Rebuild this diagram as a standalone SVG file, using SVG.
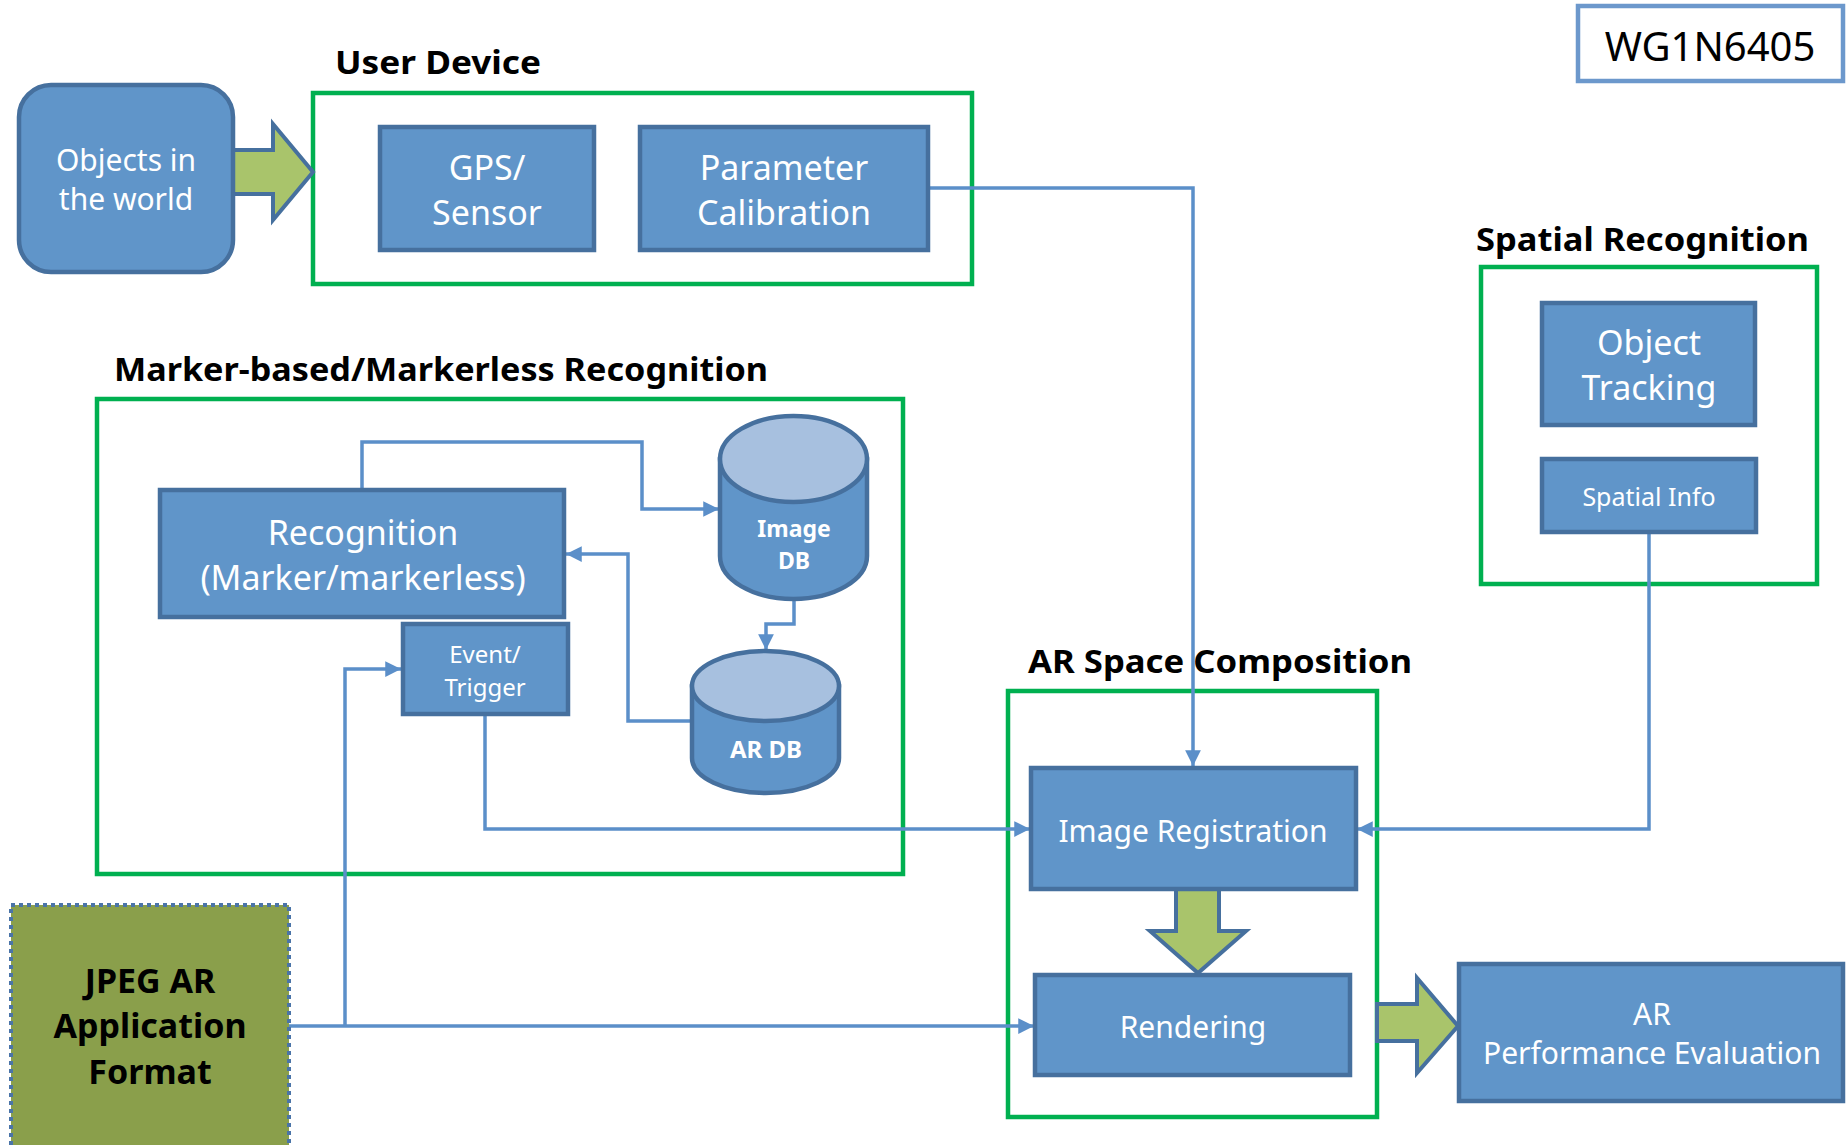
<svg xmlns="http://www.w3.org/2000/svg" width="1847" height="1145" viewBox="0 0 1847 1145">
<style>
.box{fill:#6095C9;stroke:#46709E;stroke-width:4.5}
.grp{fill:none;stroke:#00B050;stroke-width:4.5}
.wt{fill:#fff;font-family:"Noto Sans","Open Sans","DejaVu Sans",sans-serif;text-anchor:middle}
.bt{fill:#000;font-family:"Noto Sans","Open Sans","DejaVu Sans",sans-serif;font-weight:bold}
.con{fill:none;stroke:#5B8FC9;stroke-width:3.5}
.garrow{fill:#A9C46B;stroke:#46709E;stroke-width:4;stroke-linejoin:miter}
.cyl{fill:#6095C9;stroke:#46709E;stroke-width:4.5}
.cyltop{fill:#A7C0DF;stroke:#46709E;stroke-width:4.5}
</style>
<defs>
<marker id="ah" viewBox="0 0 10 10" refX="10" refY="5" markerWidth="4.5" markerHeight="4.5" orient="auto" markerUnits="strokeWidth">
<path d="M0,0 L10,5 L0,10 z" fill="#5B8FC9"/>
</marker>
</defs>
<rect width="1847" height="1145" fill="#fff"/>

<!-- group containers and titles -->
<g id="user-device-group">
<rect class="grp" x="313" y="93" width="659" height="191"/>
<text class="bt" x="335" y="74" font-size="33" textLength="206" lengthAdjust="spacingAndGlyphs">User Device</text>
</g>
<g id="marker-group">
<rect class="grp" x="97" y="399" width="806" height="475"/>
<text class="bt" x="114" y="381" font-size="33" textLength="654" lengthAdjust="spacingAndGlyphs">Marker-based/Markerless Recognition</text>
</g>
<g id="spatial-group">
<rect class="grp" x="1481" y="267" width="336" height="317"/>
<text class="bt" x="1476" y="251" font-size="33" textLength="333" lengthAdjust="spacingAndGlyphs">Spatial Recognition</text>
</g>
<g id="arspace-group">
<rect class="grp" x="1008" y="691" width="369" height="426"/>
<text class="bt" x="1028" y="673" font-size="33" textLength="384" lengthAdjust="spacingAndGlyphs">AR Space Composition</text>
</g>

<!-- connectors -->
<g id="connectors">
<polyline class="con" points="928,188 1193,188 1193,766" marker-end="url(#ah)"/>
<polyline class="con" points="362,490 362,442 642,442 642,509 719,509" marker-end="url(#ah)"/>
<polyline class="con" points="692,721 628,721 628,554 566,554" marker-end="url(#ah)"/>
<polyline class="con" points="794,600 794,624 766,624 766,650" marker-end="url(#ah)"/>
<polyline class="con" points="485,715 485,829 1030,829" marker-end="url(#ah)"/>
<polyline class="con" points="1649,533 1649,829 1357,829" marker-end="url(#ah)"/>
<polyline class="con" points="289,1026 1034,1026" marker-end="url(#ah)"/>
<polyline class="con" points="345,1026 345,669 401,669" marker-end="url(#ah)"/>
<path class="garrow" d="M233,150 L273,150 L273,124 L313,172 L273,220 L273,194 L233,194 z"/>
<path class="garrow" d="M1176,889 L1219,889 L1219,931 L1246,931 L1198,973 L1150,931 L1176,931 z"/>
<path class="garrow" d="M1377,1004 L1417,1004 L1417,978 L1458,1026 L1417,1073 L1417,1041 L1377,1041 z"/>
</g>

<!-- nodes -->
<g id="objects">
<rect class="box" x="19" y="85" width="214" height="187" rx="32"/>
<text class="wt" x="126" y="171" font-size="30">Objects in</text>
<text class="wt" x="126" y="210" font-size="30">the world</text>
</g>
<g id="gps">
<rect class="box" x="380" y="127" width="214" height="123"/>
<text class="wt" x="487" y="179.5" font-size="34">GPS/</text>
<text class="wt" x="487" y="224.5" font-size="34">Sensor</text>
</g>
<g id="param">
<rect class="box" x="640" y="127" width="288" height="123"/>
<text class="wt" x="784" y="179.5" font-size="34">Parameter</text>
<text class="wt" x="784" y="224.5" font-size="34">Calibration</text>
</g>
<g id="recognition">
<rect class="box" x="160" y="490" width="404" height="127"/>
<text class="wt" x="363" y="544.5" font-size="34">Recognition</text>
<text class="wt" x="363" y="589.5" font-size="34">(Marker/markerless)</text>
</g>
<g id="image-db">
<path class="cyl" d="M720,459 L720,556 A73.5,43 0 0 0 867,556 L867,459 z"/>
<ellipse class="cyltop" cx="793.5" cy="459" rx="73.5" ry="43"/>
<text class="wt" x="794" y="537" font-size="23" font-weight="bold">Image</text>
<text class="wt" x="794" y="569" font-size="23" font-weight="bold">DB</text>
</g>
<g id="ar-db">
<path class="cyl" d="M692,686 L692,758 A73.5,35 0 0 0 839,758 L839,686 z"/>
<ellipse class="cyltop" cx="765.5" cy="686" rx="73.5" ry="35"/>
<text class="wt" x="766" y="758" font-size="24" font-weight="bold">AR DB</text>
</g>
<g id="event">
<rect class="box" x="403" y="624" width="165" height="90"/>
<text class="wt" x="485" y="663" font-size="24">Event/</text>
<text class="wt" x="485" y="696" font-size="24">Trigger</text>
</g>
<g id="object-tracking">
<rect class="box" x="1542" y="303" width="213" height="122"/>
<text class="wt" x="1649" y="354.5" font-size="34">Object</text>
<text class="wt" x="1649" y="399.5" font-size="34">Tracking</text>
</g>
<g id="spatial-info">
<rect class="box" x="1542" y="459" width="214" height="73"/>
<text class="wt" x="1649" y="506" font-size="25">Spatial Info</text>
</g>
<g id="image-registration">
<rect class="box" x="1031" y="768" width="325" height="121"/>
<text class="wt" x="1193" y="842" font-size="30">Image Registration</text>
</g>
<g id="rendering">
<rect class="box" x="1035" y="975" width="315" height="100"/>
<text class="wt" x="1193" y="1038" font-size="30">Rendering</text>
</g>
<g id="ar-perf">
<rect class="box" x="1459" y="964" width="384" height="137"/>
<text class="wt" x="1652" y="1025" font-size="30">AR</text>
<text class="wt" x="1652" y="1064" font-size="30">Performance Evaluation</text>
</g>
<g id="jpeg">
<rect x="11" y="905" width="278" height="250" fill="#8A9F4B" stroke="#4A74A8" stroke-width="4" stroke-dasharray="4,4"/>
<text class="bt" x="150" y="993" font-size="34" text-anchor="middle">JPEG AR</text>
<text class="bt" x="150" y="1038" font-size="34" text-anchor="middle">Application</text>
<text class="bt" x="150" y="1084" font-size="34" text-anchor="middle">Format</text>
</g>
<g id="wg1n6405">
<rect x="1578" y="6" width="265" height="75" fill="#fff" stroke="#6C98CC" stroke-width="4.5"/>
<text x="1710" y="61" font-size="40" text-anchor="middle" font-family="Noto Sans,Open Sans,sans-serif" fill="#000">WG1N6405</text>
</g>
</svg>
